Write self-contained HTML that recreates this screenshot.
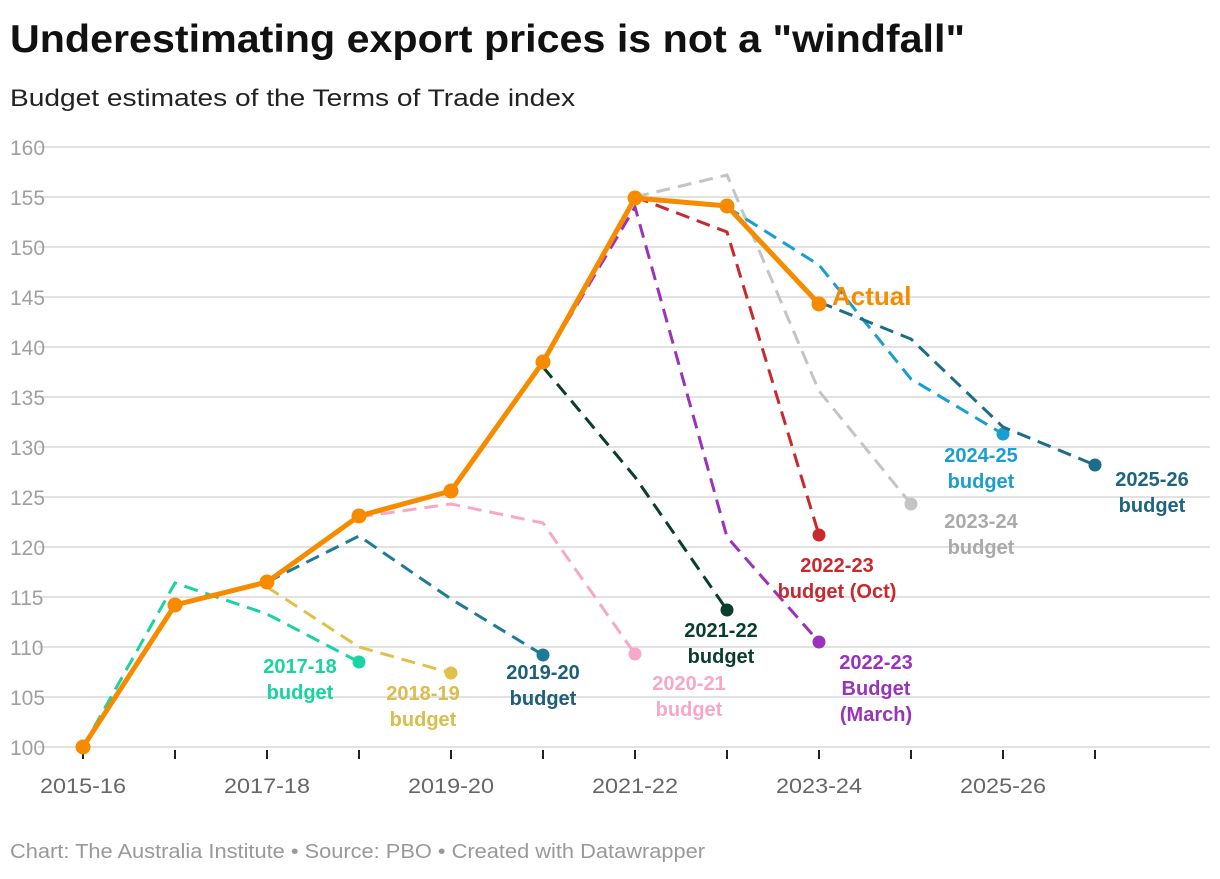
<!DOCTYPE html>
<html><head><meta charset="utf-8"><style>
body{margin:0;background:#fff;font-family:"Liberation Sans",sans-serif;}
svg text{font-family:"Liberation Sans",sans-serif;}
</style></head><body>
<svg id="c" width="1220" height="874">
<text x="10" y="52" font-size="39" font-weight="bold" fill="#111" textLength="955" lengthAdjust="spacingAndGlyphs">Underestimating export prices is not a "windfall"</text>
<text x="10" y="106" font-size="24" fill="#222" textLength="565" lengthAdjust="spacingAndGlyphs">Budget estimates of the Terms of Trade index</text>
<text x="10" y="858" font-size="20" fill="#999" textLength="695" lengthAdjust="spacingAndGlyphs">Chart: The Australia Institute  • Source: PBO • Created with Datawrapper</text>
<g id="grid"></g><g id="series"></g><g id="labels"></g>
</svg>
<script>
const yTicks=[100,105,110,115,120,125,130,135,140,145,150,155,160];
const xLabels=["2015-16","","2017-18","","2019-20","","2021-22","","2023-24","","2025-26",""];
const actual=[100,114.2,116.5,123.1,125.6,138.5,154.9,154.1,144.3];
const b1718=[[0,100],[1,116.4],[2,113.3],[3,108.5]];
const b1819=[[2,116.0],[3,110],[4,107.4]];
const b1920=[[2,116.5],[3,121.1],[4,114.8],[5,109.2]];
const b2021=[[3,123],[4,124.3],[5,122.4],[6,109.3]];
const b2122=[[5,138],[6,127],[7,113.7]];
const b2223oct=[[6,155],[7,151.5],[8,121.2]];
const b2223mar=[[5,138.5],[6,154],[7,121],[8,110.5]];
const b2324=[[6,155],[7,157.2],[8,135.6],[9,124.3]];
const b2425=[[7,154],[8,148.2],[9,136.8],[10,131.3]];
const b2526=[[8,144.5],[9,140.8],[10,132],[11,128.2]];
const NS="http://www.w3.org/2000/svg";
const X=i=>83+92*i, Y=v=>747-(v-100)*10;
function mk(p,t,a){const e=document.createElementNS(NS,t);for(const k in a)e.setAttribute(k,a[k]);p.appendChild(e);return e;}
const g=document.getElementById('grid'),s=document.getElementById('series'),L=document.getElementById('labels');
yTicks.forEach(v=>{const l=mk(g,'line',{x1:38,x2:1210,y1:Y(v),y2:Y(v),stroke:'#e2e2e2','stroke-width':2});


const t=mk(g,'text',{x:10,y:Y(v)+8,'font-size':21,fill:'#a0a0a0'});t.textContent=v;

});
xLabels.forEach((lb,i)=>{const tk=mk(g,'line',{x1:X(i),x2:X(i),y1:750,y2:759,stroke:'#222','stroke-width':2});


if(lb){const t=mk(g,'text',{x:X(i),y:793,'font-size':21,fill:'#666','text-anchor':'middle',textLength:86,lengthAdjust:'spacingAndGlyphs'});t.textContent=lb;

}});
function dashed(pts,col,name){const d=pts.map((p,i)=>(i?'L':'M')+X(p[0])+','+Y(p[1])).join('');
const pa=mk(s,'path',{d:d,fill:'none',stroke:col,'stroke-width':3,'stroke-dasharray':'14 8'});


const q=pts[pts.length-1];const c=mk(s,'circle',{cx:X(q[0]),cy:Y(q[1]),r:6.5,fill:col});

}
dashed(b1718,'#19d3a0','budget-2017-18');
dashed(b1819,'#e0c04a','budget-2018-19');
dashed(b1920,'#1f7a9a','budget-2019-20');
dashed(b2021,'#f7a8c8','budget-2020-21');
dashed(b2122,'#0b3d2c','budget-2021-22');
dashed(b2223oct,'#c9282d','budget-2022-23-oct');
dashed(b2223mar,'#9933bb','budget-2022-23-march');
dashed(b2324,'#c4c4c4','budget-2023-24');
dashed(b2425,'#1a9ecf','budget-2024-25');
dashed(b2526,'#1d6d8a','budget-2025-26');
const ad=actual.map((v,i)=>(i?'L':'M')+X(i)+','+Y(v)).join('');
const ap=mk(s,'path',{d:ad,fill:'none',stroke:'#f78b00','stroke-width':5,'stroke-linejoin':'round'});


actual.forEach((v,i)=>{const c=mk(s,'circle',{cx:X(i),cy:Y(v),r:7.5,fill:'#f78b00'});

});
function lab(x,y,lines,col,name){const t=mk(L,'text',{x:x,y:y,'font-size':20,'font-weight':'bold',fill:col,'text-anchor':'middle'});
lines.forEach((ln,i)=>{const sp=mk(t,'tspan',{x:x,dy:i?26:0});sp.textContent=ln;});

}
lab(300,673,['2017-18','budget'],'#19d3a0','label-2017-18');
lab(423,700,['2018-19','budget'],'#dcbc4c','label-2018-19');
lab(543,679,['2019-20','budget'],'#1c5f7a','label-2019-20');
lab(689,690,['2020-21','budget'],'#f7a8c8','label-2020-21');
lab(721,637,['2021-22','budget'],'#0b3d2c','label-2021-22');
lab(837,572,['2022-23','budget (Oct)'],'#c9282d','label-2022-23-oct');
lab(876,669,['2022-23','Budget','(March)'],'#9933bb','label-2022-23-march');
lab(981,528,['2023-24','budget'],'#aaaaaa','label-2023-24');
lab(981,462,['2024-25','budget'],'#1a9ecf','label-2024-25');
lab(1152,486,['2025-26','budget'],'#1d6480','label-2025-26');
const at=mk(L,'text',{x:832,y:305,'font-size':26,'font-weight':'bold',fill:'#f78b00'});at.textContent='Actual';


</script>
</body></html>
